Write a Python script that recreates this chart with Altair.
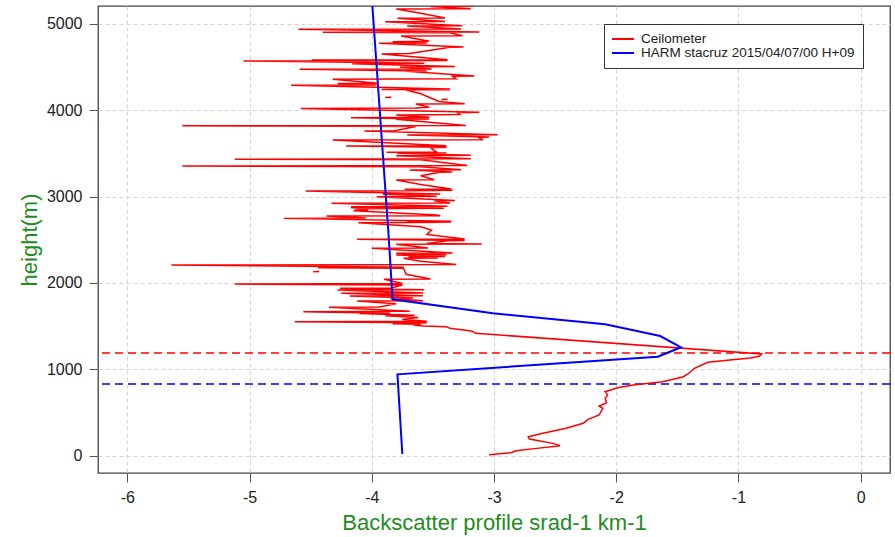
import altair as alt
import pandas as pd

# Ceilometer backscatter profile (height in m, backscatter value)
ceil_height = [
    10, 35, 58, 85, 116, 143, 193, 220, 259, 317, 375, 421, 471, 548, 575, 613,
    664, 703, 741, 787, 818, 856, 914, 960, 1012, 1050, 1081, 1108, 1130, 1150, 1178,
    1417, 1435, 1447, 1474, 1493, 1500, 1513, 1522, 1528, 1539, 1551, 1556, 1578,
    1600, 1620, 1625, 1645, 1650, 1667, 1671, 1717, 1721, 1760, 1790, 1795, 1821,
    1825, 1848, 1852, 1879, 1883, 1918, 1922, 1938, 1942, 1975, 1987, 1993, 2042,
    2046, 2100, 2170, 2176, 2181, 2207, 2212, 2250, 2285, 2289, 2303, 2307, 2323,
    2327, 2343, 2347, 2400, 2404, 2447, 2451, 2455, 2488, 2492, 2505, 2509, 2560,
    2612, 2650, 2697, 2701, 2709, 2713, 2747, 2752, 2774, 2778, 2786, 2836, 2840,
    2859, 2863, 2871, 2875, 2882, 2886, 2921, 2925, 2951, 2955, 2998, 3002, 3026,
    3030, 3064, 3068, 3073, 3083, 3087, 3140, 3191, 3195, 3240, 3280, 3284, 3307,
    3311, 3345, 3352, 3358, 3400, 3425, 3432, 3438, 3472, 3477, 3500, 3504, 3511,
    3515, 3564, 3569, 3584, 3588, 3653, 3657, 3684, 3688, 3711, 3715, 3757, 3761,
    3810, 3815, 3818, 3822, 3894, 3898, 3913, 3917, 3944, 3948, 3970, 3974, 4020,
    4024, 4032, 4070, 4074, 4100, 4190, 4233, 4237, 4240, 4244, 4288, 4292, 4308,
    4312, 4358, 4362, 4392, 4396, 4450, 4454, 4473, 4477, 4500, 4504, 4538, 4542,
    4569, 4573, 4580, 4584, 4650, 4654, 4727, 4731, 4773, 4777, 4792, 4796, 4857,
    4861, 4896, 4900, 4904, 4935, 4939, 4973, 4977, 5023, 5027, 5062, 5066, 5120,
    5170, 5174, 5200, 5204, 5230,
]
ceil_value = [
    -3.04, -2.86, -2.82, -2.65, -2.46, -2.52, -2.71, -2.72, -2.60, -2.41, -2.27, -2.23,
    -2.14, -2.11, -2.14, -2.08, -2.09, -2.07, -2.09, -1.99, -1.86, -1.62, -1.45, -1.40,
    -1.36, -1.30, -1.25, -1.07, -0.90, -0.83, -0.81,
    -3.15, -3.17, -3.20, -3.36, -3.39, -3.58, -3.66, -3.60, -3.83, -3.55, -4.63, -3.55,
    -3.75, -3.62, -3.89, -3.65, -4.10, -3.85, -4.56, -3.69, -4.35, -3.94, -3.80, -4.12,
    -3.58, -3.85, -3.66, -4.18, -3.58, -4.25, -3.58, -4.28, -3.57, -4.26, -3.84, -3.75,
    -5.12, -3.75, -3.90, -3.52, -3.72, -3.74, -4.44, -3.74, -5.64, -3.31, -3.60, -3.74,
    -3.46, -3.70, -3.40, -3.80, -3.39, -3.80, -3.34, -4.00, -3.54, -3.80, -3.10, -3.55,
    -3.38, -3.24, -4.12, -3.24, -3.55, -3.51, -3.60, -4.11, -3.35, -3.71, -3.35, -4.72,
    -4.05, -4.37, -3.44, -3.47, -4.15, -4.03, -4.14, -3.41, -4.17, -3.43, -4.17, -3.38,
    -4.33, -3.36, -3.49, -3.32, -3.96, -3.47, -3.91, -3.44, -4.54, -3.72, -3.34, -3.73,
    -3.35, -3.60, -3.80, -3.49, -3.60, -3.44, -3.34, -3.69, -3.27, -3.60, -5.55, -3.22,
    -3.45, -3.60, -5.12, -3.19, -3.80, -3.19, -3.79, -3.39, -3.88, -3.47, -3.52, -3.39,
    -4.21, -3.39, -4.32, -3.09, -3.13, -3.04, -3.71, -2.97, -4.06, -3.81, -3.64, -4.81,
    -5.55, -3.23, -3.80, -3.53, -4.17, -3.53, -3.80, -3.28, -3.30, -3.12, -4.58, -3.64,
    -3.53, -3.64, -3.24, -3.45, -3.60, -3.72, -3.36, -3.92, -3.36, -4.66, -3.96, -4.28,
    -3.95, -4.32, -3.31, -3.34, -3.16, -3.72, -3.55, -4.59, -3.51, -3.77, -3.32, -4.16,
    -3.57, -5.05, -3.38, -4.49, -3.38, -3.92, -3.69, -3.36, -3.25, -3.94, -3.55, -3.83,
    -3.53, -3.76, -3.26, -3.36, -4.40, -3.12, -4.60, -3.27, -3.71, -3.26, -3.89, -3.40,
    -3.79, -3.40, -3.60, -3.80, -3.19, -3.52, -3.17, -3.40,
]

# Short detached pieces of the ceilometer trace (gaps in the record)
frag_piece = [1, 1, 2, 2, 3, 3]
frag_height = [2128, 2132, 4123, 4127, 4146, 4150]
frag_value = [-4.48, -4.43, -3.43, -3.38, -3.89, -3.84]

# HARMONIE model profile
harm_height = [20, 942, 1146, 1255, 1385, 1521, 1648, 1810, 2500, 3500, 4500, 5300]
harm_value = [-3.75, -3.79, -1.66, -1.47, -1.64, -2.09, -3.01, -3.83, -3.86, -3.91, -3.96, -4.00]

# Boundary-layer heights (m)
pbl_height = [1190, 830]
pbl_color = ["#ff0000", "#0000ff"]

series_names = ["Ceilometer", "HARM stacruz 2015/04/07/00 H+09"]
series_colors = ["#ff0000", "#0000ff"]

x_ticks = [-6, -5, -4, -3, -2, -1, 0]
y_ticks = [0, 1000, 2000, 3000, 4000, 5000]

ceil_df = pd.DataFrame({
    "height": ceil_height + frag_height,
    "value": ceil_value + frag_value,
    "piece": [0] * len(ceil_height) + frag_piece,
})
ceil_df["i"] = range(len(ceil_df))
ceil_df["series"] = series_names[0]

harm_df = pd.DataFrame({"height": harm_height, "value": harm_value})
harm_df["i"] = range(len(harm_df))
harm_df["series"] = series_names[1]

pbl_df = pd.DataFrame({"height": pbl_height, "color": pbl_color})

font = "Liberation Sans"
green = "#1f8c1f"

x_enc = alt.X(
    "value:Q",
    scale=alt.Scale(domain=[-6.24, 0.24], nice=False, zero=False),
    axis=alt.Axis(
        values=x_ticks, title="Backscatter profile srad-1 km-1",
        labelExpr="'' + datum.value", titlePadding=7,
    ),
)
y_enc = alt.Y(
    "height:Q",
    scale=alt.Scale(domain=[-200, 5205], nice=False, zero=False),
    axis=alt.Axis(
        values=y_ticks, title="height(m)",
        labelExpr="'' + datum.value", titlePadding=5,
    ),
)
color_enc = alt.Color(
    "series:N",
    scale=alt.Scale(domain=series_names, range=series_colors),
    legend=alt.Legend(
        title=None, orient="none", legendX=506, legendY=18,
        symbolType="stroke", symbolSize=729, symbolStrokeWidth=2,
        clipHeight=14, rowPadding=0, padding=8, symbolOffset=-6, labelOffset=6,
        labelLimit=400,
        labelFont=font, labelFontSize=13.5, labelColor="#222222",
        fillColor="white", strokeColor="#333333",
    ),
)

ceil_line = alt.Chart(ceil_df).mark_line(strokeWidth=1.5, clip=True).encode(
    x=x_enc, y=y_enc, color=color_enc, detail="piece:N", order="i:Q"
)
harm_line = alt.Chart(harm_df).mark_line(strokeWidth=2, clip=True).encode(
    x=x_enc, y=y_enc, color=color_enc, order="i:Q"
)
pbl_rules = alt.Chart(pbl_df).mark_rule(strokeWidth=1.5, strokeDash=[8, 5]).encode(
    y=alt.Y("height:Q"), stroke=alt.Stroke("color:N", scale=None)
)

chart = (
    alt.layer(pbl_rules, ceil_line, harm_line)
    .properties(
        width=792, height=467,
        padding={"left": 98, "top": 6, "right": 5, "bottom": 64},
        autosize=alt.AutoSizeParams(type="none"),
    )
    .configure(font=font)
    .configure_view(stroke="#444444", strokeWidth=1.3)
    .configure_axis(
        domain=False, grid=True, gridColor="#d4d4d4", gridDash=[4, 3], gridWidth=1,
        ticks=True, tickSize=9, tickColor="#555555", tickWidth=1,
        labelFont=font, labelFontSize=16, labelColor="#222222", labelPadding=7,
        titleFont=font, titleFontSize=22, titleFontWeight="normal", titleColor=green,
    )
)

chart.save("out.html", embed_options={"renderer": "svg", "actions": False})
